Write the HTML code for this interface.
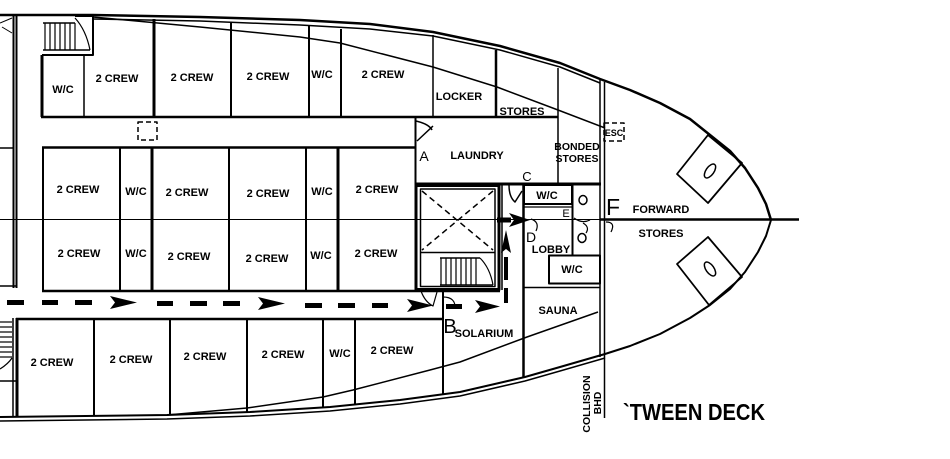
<!DOCTYPE html>
<html><head><meta charset="utf-8"><style>
html,body{margin:0;padding:0;background:#fff;width:950px;height:459px;overflow:hidden}
svg{display:block}
text{font-family:"Liberation Sans",Arial,sans-serif;font-weight:bold;font-size:11px;fill:#000;text-anchor:middle}
.r{font-weight:normal}
</style></head><body>
<svg width="950" height="459" viewBox="0 0 950 459" xmlns="http://www.w3.org/2000/svg">
<g fill="none" stroke="#000" stroke-linejoin="round" stroke-linecap="butt">
<!-- hull top double line -->
<polyline stroke-width="2.5" points="0,15 93,15 200,17 300,20 370,24 433,32 500,46 560,63 600,79 630,90 660,103 690,119 710,135 730,151 745,168 758,188 766,204 771,220"/>
<polyline stroke-width="1.5" points="93,19 200,21 300,25 370,29 433,36 500,50 560,67 600,83"/>
<!-- hull bottom double line -->
<polyline stroke-width="2" points="771,220 766,236 758,252 745,272 730,289 710,305 690,318 660,334 630,346 605,354 560,367 525,377 460,392 400,400 330,407 250,412 167,415 0,417"/>
<polyline stroke-width="1.5" points="605,358 560,371 525,381 460,396 400,404 330,411 250,416 167,419 0,421"/>
<!-- inner deck lines -->
<polyline stroke-width="1.5" points="93,17 200,27 300,37 340,43 433,67 497,87 558,110 605,128"/>
<polyline stroke-width="1.5" points="598,312 527,337 460,362 430,370 353,390 323,397 247,408 167,415"/>
<!-- centerline -->
<line x1="0" y1="219.5" x2="600" y2="219.5" stroke-width="1"/>
<line x1="600" y1="219.5" x2="799" y2="219.5" stroke-width="2.5"/>
<!-- collision bulkhead -->
<line x1="600" y1="80" x2="600" y2="357" stroke-width="1.5"/>
<line x1="604.5" y1="82" x2="604.5" y2="418" stroke-width="1.5"/>
<!-- left double wall + box -->
<line x1="13.5" y1="15" x2="13.5" y2="288" stroke-width="2"/>
<line x1="16.5" y1="15" x2="16.5" y2="288" stroke-width="2"/>
<line x1="0" y1="148" x2="13" y2="148" stroke-width="1.5"/>
<line x1="0" y1="286" x2="17" y2="286" stroke-width="1.5"/>
<line x1="0" y1="23" x2="12" y2="18" stroke-width="1"/>
<line x1="2" y1="27" x2="12" y2="33" stroke-width="1"/>
<!-- top-left stair -->
<polyline stroke-width="2" points="75,16 93,16 93,55 42,55"/>
<line x1="43" y1="23" x2="75" y2="23" stroke-width="1.5"/>
<line x1="43" y1="50" x2="90" y2="50" stroke-width="1.5"/>
<g stroke-width="1.2">
<line x1="45" y1="23" x2="45" y2="50"/><line x1="50" y1="23" x2="50" y2="50"/><line x1="55" y1="23" x2="55" y2="50"/><line x1="60" y1="23" x2="60" y2="50"/><line x1="65" y1="23" x2="65" y2="50"/><line x1="70" y1="23" x2="70" y2="50"/><line x1="75" y1="23" x2="75" y2="50"/>
</g>
<path d="M75,18 Q86,30 90,50" stroke-width="1.2"/>
<!-- top row rooms -->
<line x1="42" y1="55" x2="42" y2="117" stroke-width="3"/>
<line x1="84" y1="55" x2="84" y2="117" stroke-width="1.5"/>
<line x1="41" y1="117" x2="558" y2="117" stroke-width="2.5"/>
<line x1="154" y1="19" x2="154" y2="117" stroke-width="3"/>
<line x1="231" y1="23" x2="231" y2="117" stroke-width="2"/>
<line x1="309" y1="26" x2="309" y2="117" stroke-width="2"/>
<line x1="341" y1="29" x2="341" y2="117" stroke-width="2"/>
<line x1="433" y1="35" x2="433" y2="117" stroke-width="1.5"/>
<line x1="496" y1="50" x2="496" y2="117" stroke-width="2.5"/>
<line x1="558" y1="68" x2="558" y2="184" stroke-width="1.5"/>
<!-- corridor esc box -->
<rect x="138" y="122" width="19" height="18" stroke-width="1.5" stroke-dasharray="5,3"/>
<!-- laundry -->
<line x1="415.5" y1="117" x2="415.5" y2="185" stroke-width="2"/>
<line x1="415" y1="184" x2="601" y2="184" stroke-width="3"/>
<path d="M416,121 Q429,124 432,130" stroke-width="1.5"/>
<line x1="417" y1="141" x2="433" y2="126" stroke-width="1.5"/>
<!-- middle block -->
<line x1="42" y1="147.5" x2="415" y2="147.5" stroke-width="2.5"/>
<line x1="43" y1="147" x2="43" y2="292" stroke-width="2"/>
<line x1="42" y1="291" x2="500" y2="291" stroke-width="2.5"/>
<line x1="120" y1="147" x2="120" y2="291" stroke-width="2"/>
<line x1="152" y1="147" x2="152" y2="291" stroke-width="3"/>
<line x1="229" y1="147" x2="229" y2="291" stroke-width="2"/>
<line x1="306" y1="147" x2="306" y2="291" stroke-width="2"/>
<line x1="338" y1="147" x2="338" y2="291" stroke-width="3"/>
<!-- stair / lift box -->
<rect x="416" y="185.5" width="83" height="104" stroke-width="3"/>
<rect x="420.5" y="189" width="74.5" height="97.5" stroke-width="1.5"/>
<line x1="420" y1="252.5" x2="495" y2="252.5" stroke-width="1.5"/>
<line x1="422" y1="191" x2="493" y2="250" stroke-width="1.5" stroke-dasharray="6,4"/>
<line x1="493" y1="191" x2="422" y2="250" stroke-width="1.5" stroke-dasharray="6,4"/>
<line x1="502" y1="185" x2="502" y2="290" stroke-width="1.5"/>
<line x1="440" y1="258" x2="480" y2="258" stroke-width="1.5"/>
<line x1="440" y1="285" x2="493" y2="285" stroke-width="1.5"/>
<g stroke-width="1.2">
<line x1="441" y1="258" x2="441" y2="285"/><line x1="446" y1="258" x2="446" y2="285"/><line x1="451" y1="258" x2="451" y2="285"/><line x1="456" y1="258" x2="456" y2="285"/><line x1="461" y1="258" x2="461" y2="285"/><line x1="466" y1="258" x2="466" y2="285"/><line x1="471" y1="258" x2="471" y2="285"/><line x1="476" y1="258" x2="476" y2="285"/>
</g>
<path d="M480,258 Q490,268 493,285" stroke-width="1.2"/>
<!-- lobby area -->
<line x1="523.5" y1="184" x2="523.5" y2="378" stroke-width="2.5"/>
<rect x="524" y="185" width="48" height="19" stroke-width="2"/>
<line x1="524" y1="207" x2="572" y2="207" stroke-width="1.2"/>
<line x1="572.5" y1="185" x2="572.5" y2="255" stroke-width="2"/>
<rect x="549" y="255.5" width="51" height="28" stroke-width="2"/>
<line x1="523" y1="287.5" x2="600" y2="287.5" stroke-width="1.5"/>
<ellipse cx="583" cy="200" rx="4" ry="4.5" stroke-width="1.5"/>
<ellipse cx="582" cy="238" rx="4" ry="4.5" stroke-width="1.5"/>
<path d="M509,185 Q509,197 515,202 L522,191" stroke-width="1.5"/>
<path d="M531,219 Q540,222 536,231" stroke-width="1.2"/>
<path d="M574,218 Q582,224 590,220" stroke-width="1.2"/>
<path d="M583,223 Q590,227 586,233" stroke-width="1.2"/>
<path d="M606,222 Q616,222 611,232" stroke-width="1.2"/>
<!-- solarium -->
<line x1="443" y1="290" x2="443" y2="394" stroke-width="2"/>
<path d="M443,297 Q456,297 455,309" stroke-width="1.2"/>
<path d="M421,291 Q425,302 433,306 L437,292" stroke-width="1.2"/>
<!-- bottom row -->
<line x1="16" y1="319" x2="443" y2="319" stroke-width="2.5"/>
<line x1="17" y1="318" x2="17" y2="417" stroke-width="3"/>
<line x1="94" y1="319" x2="94" y2="416" stroke-width="2"/>
<line x1="170" y1="319" x2="170" y2="415" stroke-width="2"/>
<line x1="247" y1="319" x2="247" y2="412" stroke-width="2"/>
<line x1="323" y1="319" x2="323" y2="408" stroke-width="2"/>
<line x1="355" y1="319" x2="355" y2="405" stroke-width="2"/>
<!-- bottom-left stair -->
<line x1="13" y1="318" x2="13" y2="417" stroke-width="1.5"/>
<line x1="0" y1="381" x2="16" y2="381" stroke-width="1.5"/>
<g stroke-width="1.2">
<line x1="0" y1="322" x2="12" y2="322"/><line x1="0" y1="327" x2="12" y2="327"/><line x1="0" y1="332" x2="12" y2="332"/><line x1="0" y1="337" x2="12" y2="337"/><line x1="0" y1="342" x2="12" y2="342"/><line x1="0" y1="347" x2="12" y2="347"/><line x1="0" y1="352" x2="12" y2="352"/><line x1="0" y1="357" x2="12" y2="357"/>
</g>
<path d="M0,369 Q8,364 12,358" stroke-width="1.2"/>
<!-- windlass seats -->
<polygon points="708,135 742,163 708,203 677,174" stroke-width="1.8"/>
<ellipse cx="710" cy="171" rx="4" ry="8" transform="rotate(35 710 171)" stroke-width="1.5"/>
<polygon points="708,237 742,277 709,305 677,264" stroke-width="1.8"/>
<ellipse cx="710" cy="269" rx="4" ry="8" transform="rotate(-35 710 269)" stroke-width="1.5"/>
<!-- bhd esc box -->
<rect x="604" y="123" width="20" height="18" stroke-width="1.5" stroke-dasharray="5,3"/>
</g>
<!-- dashed route arrows -->
<g fill="#000" stroke="none">
<rect x="7" y="300" width="17" height="5"/><rect x="42" y="300" width="16" height="5"/><rect x="75" y="300" width="17" height="5"/>
<polygon points="110,296 137,302.5 110,309 115,302.5"/>
<rect x="157" y="301" width="16" height="5"/><rect x="190" y="301" width="17" height="5"/><rect x="223" y="301" width="17" height="5"/>
<polygon points="258,297 285,303.5 258,310 263,303.5"/>
<rect x="305" y="303" width="17" height="5"/><rect x="338" y="303" width="17" height="5"/><rect x="372" y="303" width="16" height="5"/>
<polygon points="407,299 433,305.5 407,312 412,305.5"/>
<rect x="446" y="304" width="16" height="5"/>
<polygon points="475,300 500,306.5 475,313 480,306.5"/>
<rect x="504" y="288" width="4" height="15"/>
<rect x="504" y="257" width="4" height="23"/>
<polygon points="506,230 511,253 506,249 501,253"/>
<rect x="497" y="217.5" width="14" height="5"/>
<polygon points="509,213 530,220 509,227 514,220"/>
</g>
<!-- labels -->
<text x="63" y="93">W/C</text>
<text x="117" y="82">2 CREW</text>
<text x="192" y="81">2 CREW</text>
<text x="268" y="80">2 CREW</text>
<text x="322" y="78">W/C</text>
<text x="383" y="78">2 CREW</text>
<text x="459" y="100">LOCKER</text>
<text x="522" y="115">STORES</text>
<text x="577" y="150" style="font-size:10.5px">BONDED</text>
<text x="577" y="162" style="font-size:10.5px">STORES</text>
<text x="614" y="136" style="font-size:9px">ESC</text>
<text x="477" y="159">LAUNDRY</text>
<text x="424" y="161" class="r" style="font-size:14px">A</text>
<text x="527" y="181" class="r" style="font-size:13px">C</text>
<text x="78" y="193">2 CREW</text>
<text x="136" y="195">W/C</text>
<text x="187" y="196">2 CREW</text>
<text x="268" y="197">2 CREW</text>
<text x="322" y="195">W/C</text>
<text x="377" y="193">2 CREW</text>
<text x="79" y="257">2 CREW</text>
<text x="136" y="257">W/C</text>
<text x="189" y="260">2 CREW</text>
<text x="267" y="262">2 CREW</text>
<text x="321" y="259">W/C</text>
<text x="376" y="257">2 CREW</text>
<text x="547" y="199">W/C</text>
<text x="566" y="217" class="r" style="font-size:11px">E</text>
<text x="531" y="242" class="r" style="font-size:14px">D</text>
<text x="551" y="253">LOBBY</text>
<text x="572" y="273">W/C</text>
<text x="613" y="215" class="r" style="font-size:23px">F</text>
<text x="661" y="213">FORWARD</text>
<text x="661" y="237">STORES</text>
<text x="558" y="314">SAUNA</text>
<text x="450" y="333" class="r" style="font-size:20px">B</text>
<text x="484" y="337">SOLARIUM</text>
<text x="52" y="366">2 CREW</text>
<text x="131" y="363">2 CREW</text>
<text x="205" y="360">2 CREW</text>
<text x="283" y="358">2 CREW</text>
<text x="340" y="357">W/C</text>
<text x="392" y="354">2 CREW</text>
<text transform="translate(590,404) rotate(-90)" style="font-size:10.5px">COLLISION</text>
<text transform="translate(601,403) rotate(-90)" style="font-size:10.5px">BHD</text>
<text x="623" y="420" style="font-size:23px;text-anchor:start" textLength="142" lengthAdjust="spacingAndGlyphs">`TWEEN DECK</text>
</svg>
</body></html>
